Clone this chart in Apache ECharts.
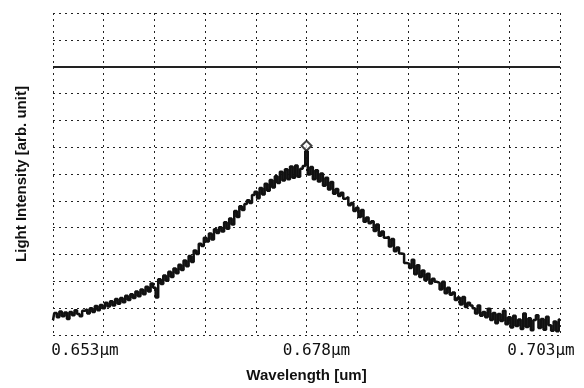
<!DOCTYPE html>
<html>
<head>
<meta charset="utf-8">
<script src="https://cdn.jsdelivr.net/npm/echarts@6/dist/echarts.min.js"></script>
<style>
  html, body { margin: 0; padding: 0; background: #fff; }
  #chart { width: 584px; height: 388px; }
</style>
</head>
<body>
<div id="chart"></div>
<script>
// span of the analyzer sweep, um
const wlStart = 0.653
const wlStop = 0.703
const wlLabels = ['0.653μm', '0.678μm', '0.703μm']

// trace, in grid divisions (0 = bottom line, 12 = top)
const intensity = [
  0.55, 0.82, 0.66, 0.88, 0.70, 0.84, 0.60, 0.86, 0.74, 0.92, 0.78, 0.70, 0.90, 0.96, 0.80, 1.00, 0.86, 1.08, 0.92, 1.12,
  1.00, 1.20, 1.06, 1.26, 1.10, 1.34, 1.16, 1.38, 1.22, 1.46, 1.30, 1.52, 1.38, 1.62, 1.44, 1.70, 1.52, 1.80, 1.62, 1.92,
  1.76, 1.40, 2.08, 1.90, 2.22, 2.02, 2.36, 2.16, 2.48, 2.30, 2.62, 2.42, 2.78, 2.56, 2.94, 2.72, 3.15, 3.02, 3.40, 3.32,
  3.62, 3.48, 3.78, 3.56, 3.94, 3.80, 4.02, 3.86, 4.20, 3.96, 4.34, 4.12, 4.62, 4.40, 4.80, 4.66, 4.88, 5.02, 4.92, 5.22,
  5.34, 5.10, 5.48, 5.24, 5.64, 5.38, 5.78, 5.50, 5.92, 5.66, 6.08, 5.76, 6.18, 5.80, 6.28, 5.86, 6.32, 5.90, 6.20, 6.30,
  6.85, 5.98, 6.26, 5.80, 6.14, 5.72, 6.02, 5.56, 5.86, 5.42, 5.70, 5.26, 5.44, 5.18, 5.30, 5.08, 5.14, 4.84, 4.92, 4.62,
  4.74, 4.40, 4.66, 4.22, 4.38, 4.16, 4.24, 3.88, 4.12, 3.70, 3.86, 3.62, 3.66, 3.30, 3.58, 3.12, 3.26, 3.04, 3.02, 2.68,
  2.66, 2.50, 2.80, 2.26, 2.60, 2.16, 2.40, 2.04, 2.28, 1.92, 2.10, 1.98, 1.94, 1.70, 1.98, 1.56, 1.76, 1.50, 1.58, 1.30,
  1.40, 1.14, 1.42, 1.04, 1.20, 1.10, 1.00, 0.80, 1.10, 0.72, 0.86, 0.66, 0.98, 0.56, 0.82, 0.44, 0.78, 0.52, 0.90, 0.40,
  0.66, 0.28, 0.72, 0.34, 0.58, 0.22, 0.80, 0.30, 0.62, 0.18, 0.56, 0.74, 0.26, 0.60, 0.20, 0.68, 0.36, 0.16, 0.50, 0.14, 0.58,
]

// peak marker (diamond): wavelength um, level
const peakWl = [0.678]
const peakLevel = [7.05]

const refLevel = 10

// x axis runs in nm offset from start so the 5 nm grid lands on the divisions
const spanNm = (wlStop - wlStart) * 1000
const toNm = (wl) => (wl - wlStart) * 1000
const traceData = intensity.map((v, i) => [(i * spanNm) / (intensity.length - 1), v])

const gridDash = { color: '#222', width: 1, type: [2, 4] }
const monoLabel = { fontFamily: 'DejaVu Sans Mono', fontSize: 16, color: '#111' }
const boldName = { fontFamily: 'Liberation Sans', fontWeight: 'bold', fontSize: 15, color: '#111' }

const chart = echarts.init(document.getElementById('chart'), null, { renderer: 'canvas' })
chart.setOption({
  animation: false,
  backgroundColor: '#fff',
  grid: { left: 53, right: 24, top: 13, bottom: 51 },
  xAxis: {
    type: 'value',
    min: 0,
    max: spanNm,
    interval: 5,
    name: 'Wavelength [um]',
    nameLocation: 'middle',
    nameGap: 33,
    nameTextStyle: boldName,
    axisLine: { show: false },
    axisTick: { show: false },
    splitLine: { show: true, lineStyle: gridDash },
    axisLabel: {
      customValues: [0, spanNm / 2, spanNm],
      margin: 8,
      formatter: (v) => {
        if (v === 0) return '{l|' + wlLabels[0] + '}'
        if (v === spanNm) return '{r|' + wlLabels[2] + '}'
        return '{c|' + wlLabels[1] + '}'
      },
      rich: {
        l: { ...monoLabel, padding: [0, 0, 0, 64] },
        c: { ...monoLabel, padding: [0, 0, 0, 20] },
        r: { ...monoLabel, padding: [0, 38, 0, 0] },
      },
    },
  },
  yAxis: {
    type: 'value',
    min: 0,
    max: 12,
    interval: 1,
    name: 'Light Intensity [arb. unit]',
    nameLocation: 'middle',
    nameGap: 24,
    nameTextStyle: boldName,
    axisLine: { show: false },
    axisTick: { show: false },
    axisLabel: { show: false },
    splitLine: { show: true, lineStyle: gridDash },
  },
  series: [
    {
      type: 'line',
      data: traceData,
      step: 'middle',
      showSymbol: false,
      lineStyle: { color: '#111', width: 2.5 },
      markLine: {
        silent: true,
        symbol: 'none',
        label: { show: false },
        lineStyle: { type: 'solid', color: '#222', width: 2 },
        data: [{ yAxis: refLevel }],
      },
      z: 3,
    },
    {
      type: 'scatter',
      data: peakWl.map((w, i) => [toNm(w), peakLevel[i]]),
      symbol: 'emptyDiamond',
      symbolSize: 10,
      itemStyle: { color: '#111', borderWidth: 2 },
      z: 4,
    },
  ],
})
</script>
</body>
</html>
